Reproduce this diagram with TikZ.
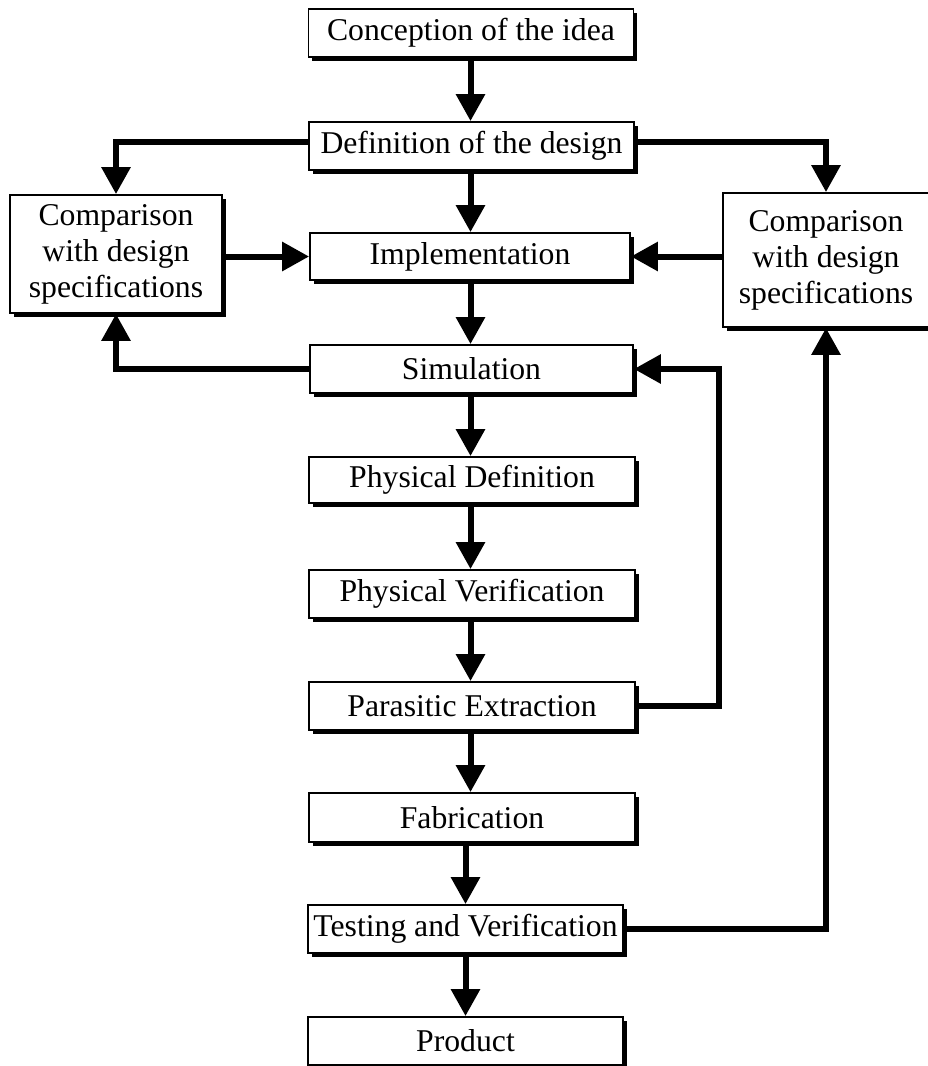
\documentclass[tikz,border=0pt]{standalone}
\usepackage{fontspec}
\setmainfont{Liberation Serif}
\usetikzlibrary{arrows.meta,shadows}
\begin{document}
\begin{tikzpicture}[x=1pt,y=-1pt,
  box/.style={draw=black,line width=1.8pt,fill=white,inner sep=0pt,
    minimum width=#1,minimum height=48pt,align=center,
    font=\fontsize{31.7}{36}\selectfont,
    drop shadow={shadow xshift=3.5pt,shadow yshift=-3.5pt,fill=black,opacity=1}},
  box/.default=325pt,
  flow/.style={line width=6pt,-{Triangle[length=27pt,width=28pt]}}
]
\useasboundingbox (0,0) rectangle (928,1066);
\node[box] (con) at (471,33) {Conception of the idea};
\node[box] (def) at (471.5,146) {Definition of the design};
\node[box=212pt,minimum height=118pt] (lc) at (116,254) {Comparison\\with design\\specifications};
\node[box=320pt,minimum height=47pt] (imp) at (470,256.5) {Implementation};
\node[box=206pt,minimum height=134pt] (rc) at (826,260) {Comparison\\with design\\specifications};
\node[box=323pt] (sim) at (471.5,369) {Simulation};
\node[box=326pt,minimum height=46pt] (pd) at (472,480) {Physical Definition};
\node[box=326pt] (pv) at (472,594) {Physical Verification};
\node[box=326pt] (pe) at (472,706) {Parasitic Extraction};
\node[box=326pt,minimum height=49pt] (fab) at (472,817.5) {Fabrication};
\node[box=315pt] (tv) at (465.5,929) {Testing and Verification};
\node[box=315pt] (prod) at (465.5,1041) {Product};

\draw[flow] (con.south -| 470.5,0) -- (def.north -| 470.5,0);
\draw[flow] (def.south -| 470.5,0) -- (imp.north -| 470.5,0);
\draw[flow] (imp.south -| 470.5,0) -- (sim.north -| 470.5,0);
\draw[flow] (sim.south -| 470.5,0) -- (pd.north -| 470.5,0);
\draw[flow] (pd.south -| 470.5,0) -- (pv.north -| 470.5,0);
\draw[flow] (pv.south -| 470.5,0) -- (pe.north -| 470.5,0);
\draw[flow] (pe.south -| 470.5,0) -- (fab.north -| 470.5,0);
\draw[flow] (fab.south -| tv.north) -- (tv.north);
\draw[flow] (tv.south) -- (prod.north);

\draw[flow] ([yshift=4pt]def.west) -| (lc.north);
\draw[flow] ([yshift=4pt]def.east) -| (rc.north);
\draw[flow] (lc.east |- imp.west) -- (imp.west);
\draw[flow] (rc.west |- imp.east) -- (imp.east);
\draw[flow] (sim.west) -| (lc.south);
\draw[flow] (pe.east) -- ++(83,0) |- (sim.east);
\draw[flow] (tv.east) -| (rc.south);
\end{tikzpicture}
\end{document}
